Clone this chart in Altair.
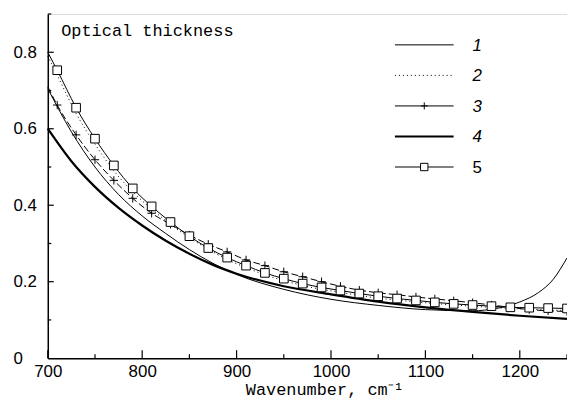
import altair as alt
import pandas as pd

# ---- data ----
x_s1 = [700, 725, 750, 775, 800, 825, 850, 875, 900, 950, 1000, 1050, 1100, 1150, 1175, 1200, 1220, 1235, 1250]
s1 = [0.705, 0.592, 0.50, 0.428, 0.372, 0.326, 0.284, 0.248, 0.219, 0.18, 0.154, 0.138, 0.127, 0.124, 0.13, 0.147, 0.172, 0.205, 0.262]

x_s4 = [700, 725, 750, 775, 800, 825, 850, 875, 900, 950, 1000, 1050, 1100, 1150, 1200, 1250]
s4 = [0.60, 0.515, 0.448, 0.393, 0.347, 0.307, 0.273, 0.244, 0.221, 0.188, 0.167, 0.148, 0.133, 0.121, 0.111, 0.103]

x_m = [700] + list(range(710, 1251, 20))
s2 = [0.79, 0.74, 0.64, 0.56, 0.49, 0.435, 0.39, 0.35, 0.315, 0.285, 0.258, 0.237, 0.218, 0.203, 0.19,
      0.18, 0.172, 0.164, 0.157, 0.152, 0.147, 0.143, 0.139, 0.136, 0.133, 0.13, 0.128, 0.126, 0.125]
s3 = [0.71, 0.662, 0.584, 0.519, 0.465, 0.418, 0.379, 0.35, 0.322, 0.298, 0.278, 0.257, 0.242, 0.226, 0.213,
      0.2, 0.188, 0.178, 0.171, 0.166, 0.16, 0.155, 0.15, 0.145, 0.139, 0.133, 0.127, 0.124, 0.122]
s5 = [0.80, 0.753, 0.655, 0.574, 0.504, 0.444, 0.397, 0.356, 0.319, 0.288, 0.263, 0.242, 0.223, 0.208, 0.195,
      0.185, 0.177, 0.169, 0.162, 0.156, 0.151, 0.146, 0.142, 0.139, 0.136, 0.133, 0.132, 0.131, 0.130]

legend_labels = ["1", "2", "3", "4", "5"]
x_major = [700, 800, 900, 1000, 1100, 1200]
x_minor = [750, 850, 950, 1050, 1150, 1250]
y_major = [0.2, 0.4, 0.6, 0.8]
y_minor = [0.1, 0.3, 0.5, 0.7, 0.9]

W, H = 522, 346
FONT = "Liberation Sans"
MONO = "Liberation Mono"

xscale = alt.Scale(domain=[700, 1250], nice=False, zero=False)
yscale = alt.Scale(domain=[0, 0.9], nice=False, zero=True)

xaxis = alt.Axis(values=x_major, format="d", ticks=False, grid=False, domainColor="black", domainWidth=1.5,
                 labelFont=FONT, labelFontSize=17, labelColor="black", labelPadding=5,
                 labelFlush=False, labelBound=False, labelOverlap=False,
                 title="Wavenumber, cm⁻¹", titleFont=MONO, titleFontSize=17, titleFontWeight="normal",
                 titleColor="black", titleX=278, titleY=37, titleAlign="center", titleBaseline="alphabetic")
yaxis = alt.Axis(values=[0] + y_major, format=".1~f", ticks=False, grid=False, domainColor="black", domainWidth=1.5,
                 labelFont=FONT, labelFontSize=17, labelColor="black", labelAlign="left", labelBaseline="middle",
                 labelPadding=35, labelFlush=False, labelBound=False, labelOverlap=False,
                 title="Optical thickness", titleAngle=0, titleX=13, titleY=22, titleAlign="left",
                 titleBaseline="alphabetic", titleFont=MONO, titleFontSize=17, titleFontWeight="normal",
                 titleColor="black")

X = lambda: alt.X("x:Q", scale=xscale, axis=xaxis)
Y = lambda: alt.Y("y:Q", scale=yscale, axis=yaxis)

d1 = pd.DataFrame({"x": x_s1, "y": s1})
d4 = pd.DataFrame({"x": x_s4, "y": s4})
d2 = pd.DataFrame({"x": x_m, "y": s2})
d3 = pd.DataFrame({"x": x_m, "y": s3})
d5 = pd.DataFrame({"x": x_m, "y": s5})

def line(df, width=1.0, dash=None):
    kw = dict(color="black", strokeWidth=width, interpolate="monotone")
    if dash:
        kw["strokeDash"] = dash
    return alt.Chart(df).mark_line(**kw).encode(x=X(), y=Y())

PLUS = "M-1,0L1,0M0,-1L0,1"

l1 = line(d1, 1.0)
l4 = line(d4, 2.2)
l2 = line(d2, 1.0, [1, 3])
l3 = line(d3, 1.0, [7, 3])
l5 = line(d5, 1.0)

m3 = alt.Chart(d3[d3.x > 700]).mark_point(shape=PLUS, size=70, filled=False, color="black", strokeWidth=1,
                                          opacity=1).encode(x=X(), y=Y())
m5 = alt.Chart(d5[d5.x > 700]).mark_point(shape="square", size=75, filled=True, fill="white", stroke="black",
                                          strokeWidth=1, opacity=1).encode(x=X(), y=Y())

# inward axis ticks
def xticks(vals, ln):
    return alt.Chart(pd.DataFrame({"x": vals})).mark_rule(color="black", strokeWidth=1.2).encode(
        x=X(), y=alt.value(H), y2=alt.value(H - ln))

def yticks(vals, ln):
    return alt.Chart(pd.DataFrame({"y": vals})).mark_rule(color="black", strokeWidth=1.2).encode(
        y=Y(), x=alt.value(0), x2=alt.value(ln))

ticks = [xticks(x_major, 8), xticks(x_minor, 4), yticks(y_major, 6), yticks(y_minor, 3.5)]

# legend
one = pd.DataFrame({"a": [0]})
leg = []
styles = [
    dict(w=1.0, dash=None, mark=None),
    dict(w=1.0, dash=[1, 3], mark=None),
    dict(w=1.0, dash=None, mark="plus"),
    dict(w=2.2, dash=None, mark=None),
    dict(w=1.0, dash=None, mark="square"),
]
for i, (lab, st) in enumerate(zip(legend_labels, styles)):
    yy = 31 + i * 30.7
    kw = dict(color="black", strokeWidth=st["w"])
    if st["dash"]:
        kw["strokeDash"] = st["dash"]
    leg.append(alt.Chart(one).mark_rule(**kw).encode(
        x=alt.value(349), x2=alt.value(408), y=alt.value(yy)))
    if st["mark"] == "plus":
        leg.append(alt.Chart(one).mark_point(shape=PLUS, size=50, filled=False, color="black", strokeWidth=1,
                                             opacity=1).encode(x=alt.value(378.5), y=alt.value(yy)))
    if st["mark"] == "square":
        leg.append(alt.Chart(one).mark_point(shape="square", size=55, filled=True, fill="white", stroke="black",
                                             strokeWidth=1, opacity=1).encode(x=alt.value(378.5), y=alt.value(yy)))
    leg.append(alt.Chart(one).mark_text(text=lab, font=FONT, fontSize=17, align="left", baseline="middle",
                                        fontStyle="normal" if lab == "5" else "italic", color="black").encode(
        x=alt.value(427), y=alt.value(yy + 1)))

chart = alt.layer(l1, l4, l2, l3, l5, m3, m5, *ticks, *leg).properties(
    width=W, height=H,
    autosize=alt.AutoSizeParams(type="none"),
    padding={"left": 40, "top": 5, "right": 0, "bottom": 44},
).configure_view(stroke=None).configure(background="white")

chart.save("out.html", embed_options={"renderer": "svg", "actions": False})
